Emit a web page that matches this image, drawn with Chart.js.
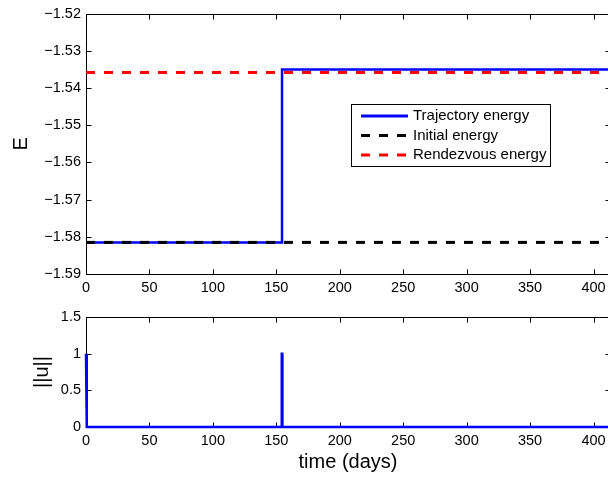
<!DOCTYPE html>
<html>
<head>
<meta charset="utf-8">
<script src="https://cdn.jsdelivr.net/npm/chart.js@4"></script>
<style>
  body { margin: 0; background: #fff; overflow: hidden; width: 608px; height: 480px; position: relative; }
  canvas { position: absolute; left: 0; }
  #energy { top: 0; }
  #control { top: 300px; }
</style>
</head>
<body>
<canvas id="energy" width="612" height="300"></canvas>
<canvas id="control" width="612" height="180"></canvas>
<script>
// time axis (days) -- the right edge of the plot is cut off by the image
var timeRange = [0, 413];
var timeTicks = [0, 50, 100, 150, 200, 250, 300, 350, 400];

// energy plot
var trajTime = [0, 154.5, 154.5, 413];
var trajEnergy = [-1.5815, -1.5815, -1.535, -1.535];
var initialEnergy = -1.5815;
var rendezvousEnergy = -1.5358;
var energyTicks = [-1.59, -1.58, -1.57, -1.56, -1.55, -1.54, -1.53, -1.52];

// control norm ||u||
var uTime = [0, 0.6, 154.1, 154.3, 154.6, 154.8, 413];
var uNorm = [1, 0, 0, 1, 1, 0, 0];
var uTicks = [0, 0.5, 1, 1.5];

var FONT = '"Liberation Sans", Arial, Helvetica, sans-serif';
Chart.defaults.font.family = FONT;
Chart.defaults.color = '#000';

function pts(xs, ys) {
  return xs.map(function(x, i) { return {x: x, y: ys[i]}; });
}

// matlab style box with inward ticks on all four sides
var matlabBox = {
  id: 'matlabBox',
  beforeDatasetsDraw: function(chart) {
    var a = chart.chartArea, ctx = chart.ctx;
    var xs = chart.scales.x, ys = chart.scales.y;
    var len = 5;
    ctx.save();
    ctx.strokeStyle = '#000';
    ctx.lineWidth = 1;
    var l = Math.round(a.left) + 0.5, r = Math.round(a.right) + 0.5;
    var t = Math.round(a.top) + 0.5, b = Math.round(a.bottom) + 0.5;
    ctx.strokeRect(l, t, r - l, b - t);
    ctx.beginPath();
    xs.ticks.forEach(function(tk) {
      var px = Math.round(xs.getPixelForValue(tk.value)) + 0.5;
      ctx.moveTo(px, b); ctx.lineTo(px, b - len);
      ctx.moveTo(px, t); ctx.lineTo(px, t + len);
    });
    ys.ticks.forEach(function(tk) {
      var py = Math.round(ys.getPixelForValue(tk.value)) + 0.5;
      ctx.moveTo(l, py); ctx.lineTo(l + len, py);
      ctx.moveTo(r, py); ctx.lineTo(r - len, py);
    });
    ctx.stroke();
    ctx.restore();
  }
};

// legend box placed inside the axes like matlab does
var boxLegend = {
  id: 'boxLegend',
  afterDraw: function(chart, args, opts) {
    var ctx = chart.ctx;
    ctx.save();
    ctx.fillStyle = '#fff';
    ctx.strokeStyle = '#000';
    ctx.lineWidth = 1;
    ctx.fillRect(opts.x, opts.y, opts.w, opts.h);
    ctx.strokeRect(opts.x + 0.5, opts.y + 0.5, opts.w, opts.h);
    ctx.font = '15px ' + FONT;
    ctx.textBaseline = 'middle';
    chart.data.datasets.forEach(function(ds, i) {
      var y = opts.y + opts.firstRow + i * opts.rowH;
      ctx.beginPath();
      ctx.strokeStyle = ds.borderColor;
      ctx.lineWidth = 3;
      ctx.setLineDash(ds.borderDash || []);
      ctx.moveTo(opts.x + 10, y);
      ctx.lineTo(opts.x + 57, y);
      ctx.stroke();
      ctx.setLineDash([]);
      ctx.fillStyle = '#000';
      ctx.fillText(ds.label, opts.x + 62, y);
    });
    ctx.restore();
  }
};

function tickLabel(v) {
  return String(v).replace('-', '\u2212');
}

var energyChart = new Chart(document.getElementById('energy'), {
  type: 'line',
  data: {
    datasets: [
      {
        label: 'Trajectory energy',
        data: pts(trajTime, trajEnergy),
        borderColor: '#0000ff',
        borderWidth: 2.5,
        order: 3
      },
      {
        label: 'Initial energy',
        data: pts(timeRange, [initialEnergy, initialEnergy]),
        borderColor: '#000000',
        borderWidth: 3,
        borderDash: [9, 9],
        order: 2
      },
      {
        label: 'Rendezvous energy',
        data: pts(timeRange, [rendezvousEnergy, rendezvousEnergy]),
        borderColor: '#ff0000',
        borderWidth: 3,
        borderDash: [9, 9],
        order: 1
      }
    ]
  },
  options: {
    responsive: false,
    animation: false,
    devicePixelRatio: 1,
    layout: { padding: { top: 12, right: 2, left: 0, bottom: 0 } },
    elements: { point: { radius: 0 }, line: { tension: 0, borderCapStyle: 'butt' } },
    plugins: {
      legend: { display: false },
      tooltip: { enabled: false },
      boxLegend: { x: 351, y: 104, w: 199, h: 62, firstRow: 12, rowH: 19.5 }
    },
    scales: {
      x: {
        type: 'linear',
        min: timeRange[0],
        max: timeRange[1],
        grid: { display: false, drawTicks: false },
        border: { display: false },
        afterBuildTicks: function(s) { s.ticks = timeTicks.map(function(v) { return {value: v}; }); },
        afterFit: function(s) { s.height = 26; },
        ticks: { font: { size: 14.5 }, padding: 5, maxRotation: 0, callback: tickLabel }
      },
      y: {
        min: energyTicks[0],
        max: energyTicks[energyTicks.length - 1],
        grid: { display: false, drawTicks: false },
        border: { display: false },
        afterBuildTicks: function(s) { s.ticks = energyTicks.map(function(v) { return {value: v}; }); },
        afterFit: function(s) { s.width = 86; },
        ticks: { font: { size: 14.5 }, padding: 5, callback: function(v) { return tickLabel(v.toFixed(2)); } },
        title: { display: true, text: 'E', font: { size: 20 }, padding: { top: 9 } }
      }
    }
  },
  plugins: [matlabBox, boxLegend]
});

var controlChart = new Chart(document.getElementById('control'), {
  type: 'line',
  data: {
    datasets: [
      {
        label: '||u||',
        data: pts(uTime, uNorm),
        borderColor: '#0000ff',
        borderWidth: 2.5,
        clip: { left: 3, top: 0, right: 0, bottom: 3 }
      }
    ]
  },
  options: {
    responsive: false,
    animation: false,
    devicePixelRatio: 1,
    layout: { padding: { top: 17, right: 2, left: 0, bottom: 0 } },
    elements: { point: { radius: 0 }, line: { tension: 0 } },
    plugins: { legend: { display: false }, tooltip: { enabled: false } },
    scales: {
      x: {
        type: 'linear',
        min: timeRange[0],
        max: timeRange[1],
        grid: { display: false, drawTicks: false },
        border: { display: false },
        afterBuildTicks: function(s) { s.ticks = timeTicks.map(function(v) { return {value: v}; }); },
        afterFit: function(s) { s.height = 53; },
        ticks: { font: { size: 14.5 }, padding: 5, maxRotation: 0, callback: tickLabel },
        title: { display: true, text: 'time (days)', font: { size: 20 }, padding: { bottom: 6 } }
      },
      y: {
        min: uTicks[0],
        max: uTicks[uTicks.length - 1],
        grid: { display: false, drawTicks: false },
        border: { display: false },
        afterBuildTicks: function(s) { s.ticks = uTicks.map(function(v) { return {value: v}; }); },
        afterFit: function(s) { s.width = 86; },
        ticks: { font: { size: 14.5 }, padding: 5, callback: tickLabel },
        title: { display: true, text: '||u||', font: { size: 20 }, padding: { top: 30 } }
      }
    }
  },
  plugins: [matlabBox]
});
</script>
</body>
</html>
